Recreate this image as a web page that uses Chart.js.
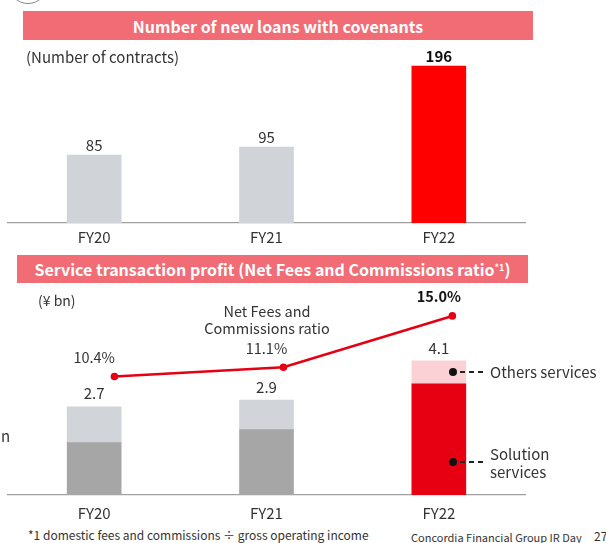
<!DOCTYPE html>
<html><head><meta charset="utf-8">
<script src="https://cdn.jsdelivr.net/npm/chart.js@4.4.1/dist/chart.umd.min.js"></script>
<style>
html,body{margin:0;padding:0;background:#fff}
body{width:606px;height:543px;position:relative;overflow:hidden;font-family:"Noto Sans CJK JP","Noto Sans",sans-serif;color:#333}
.abs{position:absolute;white-space:nowrap}
.cv{position:absolute;left:0}
.banner{position:absolute;background:#f26c76;color:#fff;font-weight:bold;font-size:16px;display:flex;align-items:center;justify-content:center;white-space:nowrap}
.dot{position:absolute;width:8px;height:8px;border-radius:50%;background:#111}
.dash{position:absolute;height:1.6px;background:repeating-linear-gradient(to right,#222 0 5px,transparent 5px 9px)}
</style></head><body>
<canvas id="c1" class="cv" style="top:0" width="606" height="252"></canvas>
<canvas id="c2" class="cv" style="top:285px" width="606" height="240"></canvas>

<div class="abs" style="left:8px;top:-36px;width:40px;height:40px;box-sizing:border-box;border:1.5px solid #8a8a8a;border-radius:50%"></div>
<div class="banner" style="left:23px;top:11px;width:510px;height:29px">Number of new loans with covenants</div>
<div class="abs" style="left:26px;top:48px;font-size:15px;line-height:18px">(Number of contracts)</div>

<div class="banner" style="left:17px;top:255px;width:511px;height:28px">Service transaction profit (Net Fees and Commissions ratio<sup style="font-size:9px;line-height:0;position:relative;top:-1px">*1</sup>)</div>
<div class="abs" style="left:38px;top:291px;font-size:14px;line-height:18px">(¥ bn)</div>
<div class="abs" style="left:187px;top:302px;width:160px;text-align:center;font-size:14.5px;line-height:17px">Net Fees and<br>Commissions ratio</div>
<div class="abs" style="left:1px;top:427px;font-size:15px;line-height:18px">n</div>

<div class="dot" style="left:449px;top:368px"></div>
<div class="dash" style="left:460px;top:371px;width:23px"></div>
<div class="abs" style="left:490px;top:362px;font-size:15px;line-height:20px">Others services</div>
<div class="dot" style="left:449px;top:458px"></div>
<div class="dash" style="left:460px;top:461px;width:23px"></div>
<div class="abs" style="left:490px;top:445px;font-size:15px;line-height:18px">Solution<br>services</div>

<div class="abs" style="left:28px;top:526px;font-size:12px;line-height:18px">*1 domestic fees and commissions ÷ gross operating income</div>
<div class="abs" style="left:411px;top:529px;font-size:11px;line-height:16px">Concordia Financial Group IR Day</div>
<div class="abs" style="left:594px;top:528px;font-size:12px;line-height:16px">27</div>

<script>
// ---- data ----
const categories = ['FY20', 'FY21', 'FY22'];
const newLoans = [85, 95, 196];
const solutionServices = [1.6, 2.0, 3.4];
const othersServices = [1.1, 0.9, 0.7];
const totals = [2.7, 2.9, 4.1];
const feeRatio = [10.4, 11.1, 15.0];

const FONT = '"Noto Sans CJK JP", "Noto Sans", sans-serif';
Chart.defaults.font.family = FONT;
Chart.defaults.color = '#333';

// ---- top chart ----
const topLabels = {
  id: 'topLabels',
  afterDatasetsDraw(chart) {
    const ctx = chart.ctx;
    ctx.save();
    ctx.textAlign = 'center';
    ctx.textBaseline = 'middle';
    chart.getDatasetMeta(0).data.forEach((bar, i) => {
      const last = i === newLoans.length - 1;
      ctx.font = (last ? 'bold ' : '') + '15px ' + FONT;
      ctx.fillStyle = last ? '#111' : '#333';
      ctx.fillText(String(newLoans[i]), bar.x, bar.y - 10);
    });
    ctx.restore();
  }
};

new Chart(document.getElementById('c1'), {
  type: 'bar',
  data: {
    labels: categories,
    datasets: [{
      data: newLoans,
      backgroundColor: ['#d0d3d8', '#d0d3d8', '#ff0000'],
      grouped: false, barThickness: 54, maxBarThickness: 54
    }]
  },
  options: {
    responsive: false,
    animation: false,
    layout: { padding: { left: 8, right: 81, top: 63, bottom: 0 } },
    plugins: { legend: { display: false }, tooltip: { enabled: false } },
    scales: {
      x: {
        grid: { display: false, drawTicks: false },
        border: { display: true, color: '#a0a0a0', width: 1.2 },
        ticks: { font: { size: 15 }, color: '#333', padding: 5 },
        afterFit(s) { s.height = 29; }
      },
      y: { display: false, min: 0, max: 200 }
    }
  },
  plugins: [topLabels]
});

// ---- bottom chart ----
const bottomLabels = {
  id: 'bottomLabels',
  afterDatasetsDraw(chart) {
    const ctx = chart.ctx;
    ctx.save();
    ctx.textAlign = 'center';
    ctx.textBaseline = 'middle';
    const topBars = chart.getDatasetMeta(1).data;
    const pts = chart.getDatasetMeta(2).data;
    topBars.forEach((bar, i) => {
      ctx.font = '15px ' + FONT;
      ctx.fillStyle = '#333';
      ctx.fillText(totals[i].toFixed(1), bar.x, bar.y - 13);
      const last = i === feeRatio.length - 1;
      ctx.font = (last ? 'bold ' : '') + '14.5px ' + FONT;
      ctx.fillStyle = last ? '#111' : '#333';
      ctx.fillText(feeRatio[i].toFixed(1) + '%', bar.x, pts[i].y - 19);
    });
    ctx.restore();
  }
};

new Chart(document.getElementById('c2'), {
  type: 'bar',
  data: {
    labels: categories,
    datasets: [
      {
        label: 'Solution services',
        data: solutionServices,
        backgroundColor: ['#a6a6a6', '#a6a6a6', '#e60012'],
        grouped: false, barThickness: 54, maxBarThickness: 54, order: 2
      },
      {
        label: 'Others services',
        data: othersServices,
        backgroundColor: ['#d1d4d9', '#d1d4d9', '#fbd1d6'],
        grouped: false, barThickness: 54, maxBarThickness: 54, order: 2
      },
      {
        type: 'line',
        label: 'Net Fees and Commissions ratio',
        data: feeRatio.map((v, i) => ({ x: i, y: v })),
        xAxisID: 'x2', yAxisID: 'y2',
        borderColor: '#e60012', backgroundColor: '#e60012',
        borderWidth: 2.6, pointRadius: 3.8, pointBorderWidth: 0,
        tension: 0, order: 0, clip: false
      }
    ]
  },
  options: {
    responsive: false,
    animation: false,
    layout: { padding: { left: 8, right: 81, top: 13.8, bottom: 0 } },
    plugins: { legend: { display: false }, tooltip: { enabled: false } },
    scales: {
      x: {
        stacked: true,
        grid: { display: false, drawTicks: false },
        border: { display: true, color: '#a0a0a0', width: 1.2 },
        ticks: { font: { size: 15 }, color: '#333', padding: 9 },
        afterFit(s) { s.height = 30; }
      },
      x2: { type: 'linear', display: false, offset: false, grid: { offset: false }, min: -0.63, max: 2.43 },
      y: { display: false, stacked: true, min: 0, max: 6 },
      y2: { display: false, position: 'right', min: 1.4, max: 16.3 }
    }
  },
  plugins: [bottomLabels]
});
</script>
</body></html>
